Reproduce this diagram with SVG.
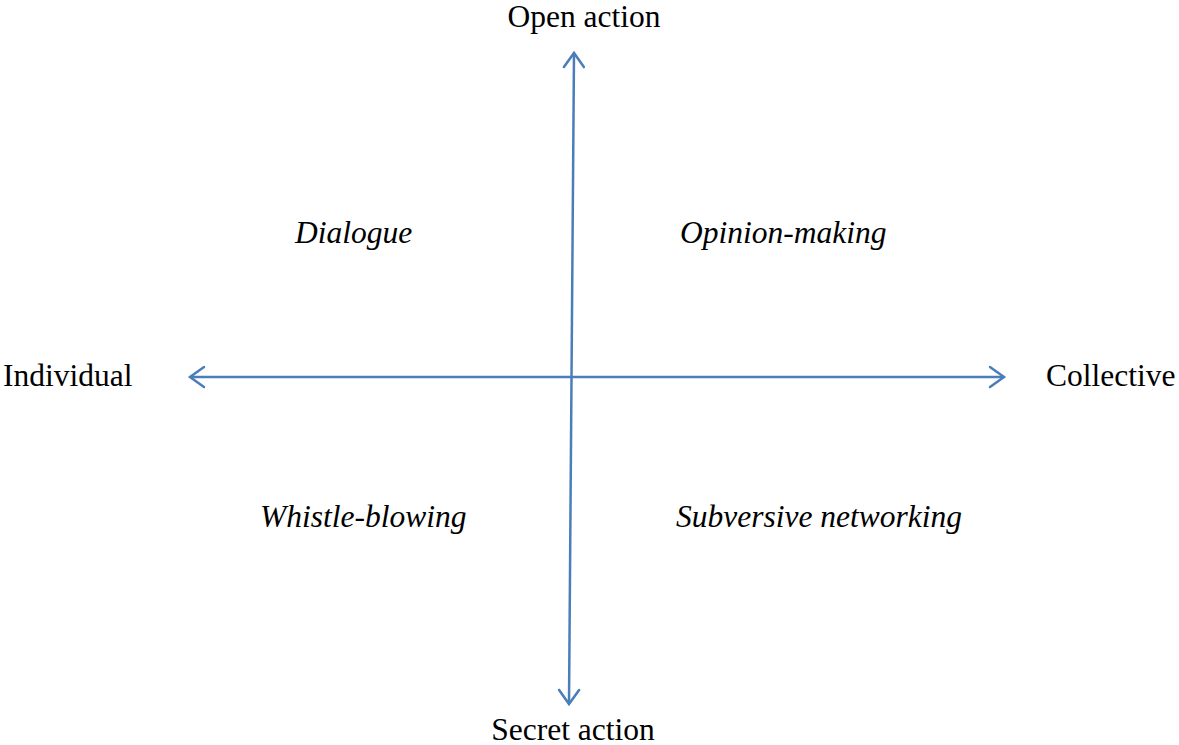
<svg xmlns="http://www.w3.org/2000/svg" width="1179" height="745" viewBox="0 0 1179 745">
  <style>
    .axis { fill: none; stroke: #4A7EBB; stroke-width: 2.5; }
    .head { fill: none; stroke: #4A7EBB; stroke-width: 2.5; stroke-linecap: round; stroke-linejoin: miter; }
    .pole { font-family: "Liberation Serif", "Times New Roman", serif; font-size: 31.5px; fill: #000; }
    .quad { font-family: "Liberation Serif", "Times New Roman", serif; font-size: 31.5px; font-style: italic; fill: #000; }
  </style>
  <defs>
    <!-- open chevron head used on both ends of each axis -->
    <marker id="open" viewBox="0 0 22 24" refX="17" refY="12" markerWidth="22" markerHeight="24" markerUnits="userSpaceOnUse" orient="auto-start-reverse">
      <path class="head" d="M3,2 L17,12 L3,22"/>
    </marker>
  </defs>
  <rect width="1179" height="745" fill="#fff"/>
  <g id="connectors">
    <line class="axis" x1="574" y1="53" x2="569" y2="704" marker-start="url(#open)" marker-end="url(#open)"/>
    <line class="axis" x1="190" y1="377" x2="1004" y2="377" marker-start="url(#open)" marker-end="url(#open)"/>
  </g>
  <g id="open-action"><text class="pole" x="584" y="27" text-anchor="middle">Open action</text></g>
  <g id="secret-action"><text class="pole" x="573" y="740" text-anchor="middle">Secret action</text></g>
  <g id="individual"><text class="pole" x="3" y="386">Individual</text></g>
  <g id="collective"><text class="pole" x="1046" y="386">Collective</text></g>
  <g id="dialogue"><text class="quad" x="295" y="243">Dialogue</text></g>
  <g id="opinion-making"><text class="quad" x="680" y="243">Opinion-making</text></g>
  <g id="whistle-blowing"><text class="quad" x="260" y="527">Whistle-blowing</text></g>
  <g id="subversive-networking"><text class="quad" x="676" y="527">Subversive networking</text></g>
</svg>
